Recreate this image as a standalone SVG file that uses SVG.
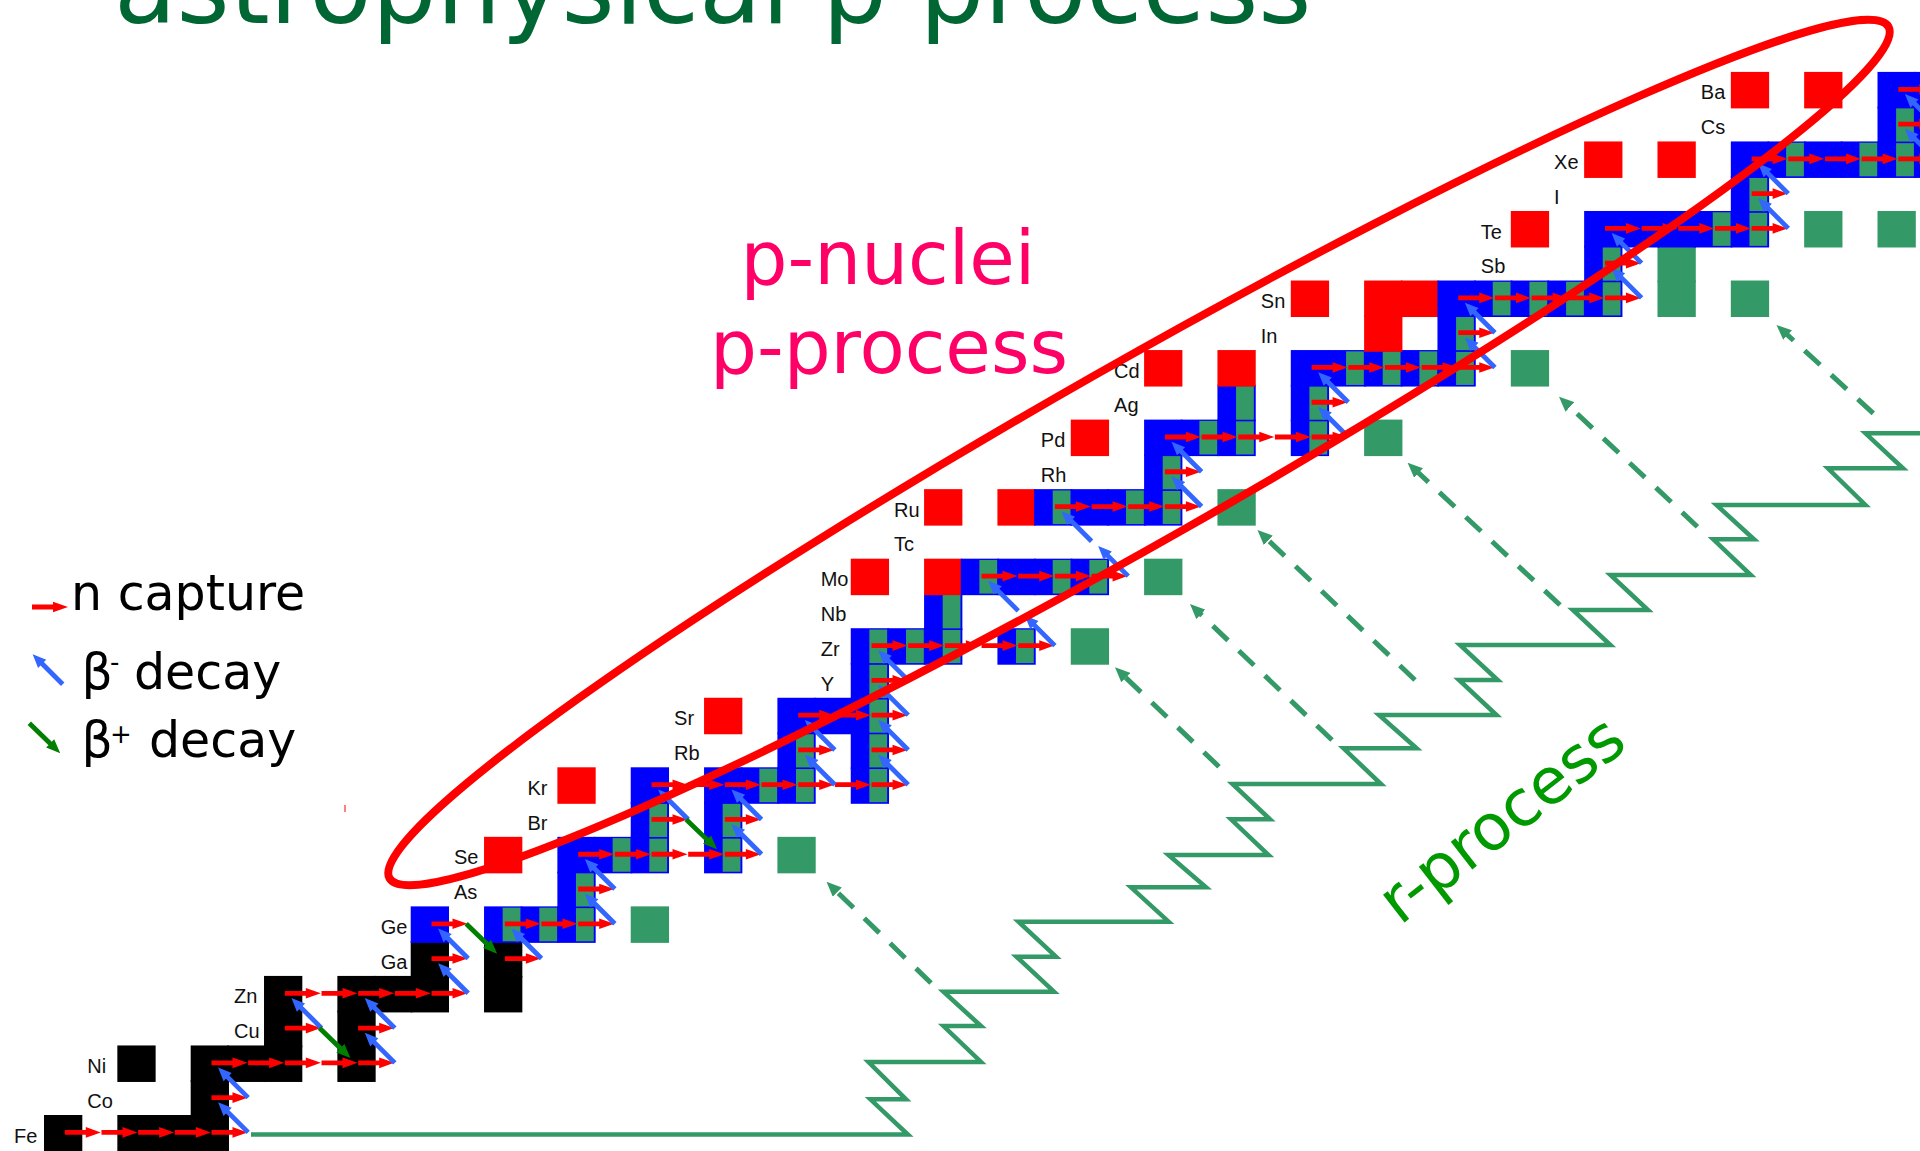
<svg xmlns="http://www.w3.org/2000/svg" xmlns:xlink="http://www.w3.org/1999/xlink" width="1920" height="1151" viewBox="0 0 1920 1151">
<style>
.k{fill:#000000}.b{fill:#0000ff}.g{fill:#339966}.r{fill:#ff0000}
.lbl{font-family:"Liberation Sans",Arial,sans-serif;font-size:20px;fill:#111}
.dj{font-family:"DejaVu Sans",Verdana,sans-serif}
.zz{fill:none;stroke:#339966;stroke-width:4.5;stroke-linejoin:miter}
.da{fill:none;stroke:#339966;stroke-width:5;stroke-dasharray:21 15;marker-end:url(#dh)}
</style>
<defs>
<rect id="sq" width="38.3" height="36.5"/>
<rect id="in" width="17.8" height="33.6"/>
<path id="ra" fill="#ff0000" d="M0,-2.4H21V-5.3L36,0L21,5.3V2.4H0Z"/>
<path id="ba" fill="#3366ff" d="M0,-2.4H29V-5.8L42.5,0L29,5.8V2.4H0Z" transform="rotate(-135)"/>
<path id="ga" fill="#007f00" d="M0,-2.4H29V-5.8L43,0L29,5.8V2.4H0Z" transform="rotate(44)"/>
<marker id="dh" viewBox="0 0 15 13" refX="5" refY="6.5" markerWidth="15" markerHeight="13" markerUnits="userSpaceOnUse" orient="auto"><path d="M0,0L15,6.5L0,13Z" fill="#339966"/></marker>
</defs>
<rect width="1920" height="1151" fill="#ffffff"/>

<text class="dj" x="114" y="22.5" font-size="102" fill="#006633">astrophysical p process</text>

<g id="nuclides">
<g id="Z26-Fe"><use href="#sq" class="k" x="44" y="1115"/><use href="#sq" class="k" x="117.34" y="1115"/><use href="#sq" class="k" x="154.01" y="1115"/><use href="#sq" class="k" x="190.68" y="1115"/><text class="lbl" x="14" y="1142.5">Fe</text></g>
<g id="Z27-Co"><use href="#sq" class="k" x="190.68" y="1080.23"/><text class="lbl" x="87.3" y="1107.7">Co</text></g>
<g id="Z28-Ni"><use href="#sq" class="k" x="117.34" y="1045.46"/><use href="#sq" class="k" x="190.68" y="1045.46"/><use href="#sq" class="k" x="227.35" y="1045.46"/><use href="#sq" class="k" x="264.02" y="1045.46"/><use href="#sq" class="k" x="337.36" y="1045.46"/><text class="lbl" x="87.3" y="1073">Ni</text></g>
<g id="Z29-Cu"><use href="#sq" class="k" x="264.02" y="1010.69"/><use href="#sq" class="k" x="337.36" y="1010.69"/><text class="lbl" x="234" y="1038.2">Cu</text></g>
<g id="Z30-Zn"><use href="#sq" class="k" x="264.02" y="975.92"/><use href="#sq" class="k" x="337.36" y="975.92"/><use href="#sq" class="k" x="374.03" y="975.92"/><use href="#sq" class="k" x="410.7" y="975.92"/><use href="#sq" class="k" x="484.04" y="975.92"/><text class="lbl" x="234" y="1003.4">Zn</text></g>
<g id="Z31-Ga"><use href="#sq" class="k" x="410.7" y="941.15"/><use href="#sq" class="k" x="484.04" y="941.15"/><text class="lbl" x="380.7" y="968.7">Ga</text></g>
<g id="Z32-Ge"><use href="#sq" class="b" x="410.7" y="906.38"/><use href="#sq" class="b" x="484.04" y="906.38"/><use href="#sq" class="b" x="520.71" y="906.38"/><use href="#sq" class="b" x="557.38" y="906.38"/><use href="#in" class="g" x="502.64" y="907.68"/><use href="#in" class="g" x="539.31" y="907.68"/><use href="#in" class="g" x="575.98" y="907.68"/><use href="#sq" class="g" x="630.72" y="906.38"/><text class="lbl" x="380.7" y="933.9">Ge</text></g>
<g id="Z33-As"><use href="#sq" class="b" x="557.38" y="871.61"/><use href="#in" class="g" x="575.98" y="872.91"/><text class="lbl" x="454" y="899.1">As</text></g>
<g id="Z34-Se"><use href="#sq" class="r" x="484.04" y="836.84"/><use href="#sq" class="b" x="557.38" y="836.84"/><use href="#sq" class="b" x="594.05" y="836.84"/><use href="#sq" class="b" x="630.72" y="836.84"/><use href="#sq" class="b" x="704.06" y="836.84"/><use href="#in" class="g" x="612.65" y="838.14"/><use href="#in" class="g" x="649.32" y="838.14"/><use href="#in" class="g" x="722.66" y="838.14"/><use href="#sq" class="g" x="777.4" y="836.84"/><text class="lbl" x="454" y="864.3">Se</text></g>
<g id="Z35-Br"><use href="#sq" class="b" x="630.72" y="802.07"/><use href="#sq" class="b" x="704.06" y="802.07"/><use href="#in" class="g" x="649.32" y="803.37"/><use href="#in" class="g" x="722.66" y="803.37"/><text class="lbl" x="527.4" y="829.6">Br</text></g>
<g id="Z36-Kr"><use href="#sq" class="r" x="557.38" y="767.3"/><use href="#sq" class="b" x="630.72" y="767.3"/><use href="#sq" class="b" x="704.06" y="767.3"/><use href="#sq" class="b" x="740.73" y="767.3"/><use href="#sq" class="b" x="777.4" y="767.3"/><use href="#sq" class="b" x="850.74" y="767.3"/><use href="#in" class="g" x="759.33" y="768.6"/><use href="#in" class="g" x="796" y="768.6"/><use href="#in" class="g" x="869.34" y="768.6"/><text class="lbl" x="527.4" y="794.8">Kr</text></g>
<g id="Z37-Rb"><use href="#sq" class="b" x="777.4" y="732.53"/><use href="#sq" class="b" x="850.74" y="732.53"/><use href="#in" class="g" x="796" y="733.83"/><use href="#in" class="g" x="869.34" y="733.83"/><text class="lbl" x="674.1" y="760">Rb</text></g>
<g id="Z38-Sr"><use href="#sq" class="r" x="704.06" y="697.76"/><use href="#sq" class="b" x="777.4" y="697.76"/><use href="#sq" class="b" x="814.07" y="697.76"/><use href="#sq" class="b" x="850.74" y="697.76"/><use href="#in" class="g" x="869.34" y="699.06"/><text class="lbl" x="674.1" y="725.3">Sr</text></g>
<g id="Z39-Y"><use href="#sq" class="b" x="850.74" y="662.99"/><use href="#in" class="g" x="869.34" y="664.29"/><text class="lbl" x="820.7" y="690.5">Y</text></g>
<g id="Z40-Zr"><use href="#sq" class="b" x="850.74" y="628.22"/><use href="#sq" class="b" x="887.41" y="628.22"/><use href="#sq" class="b" x="924.08" y="628.22"/><use href="#sq" class="b" x="997.42" y="628.22"/><use href="#in" class="g" x="869.34" y="629.52"/><use href="#in" class="g" x="906.01" y="629.52"/><use href="#in" class="g" x="942.68" y="629.52"/><use href="#in" class="g" x="1016.02" y="629.52"/><use href="#sq" class="g" x="1070.76" y="628.22"/><text class="lbl" x="820.7" y="655.7">Zr</text></g>
<g id="Z41-Nb"><use href="#sq" class="b" x="924.08" y="593.45"/><use href="#in" class="g" x="942.68" y="594.75"/><text class="lbl" x="820.7" y="621">Nb</text></g>
<g id="Z42-Mo"><use href="#sq" class="r" x="850.74" y="558.68"/><use href="#sq" class="r" x="924.08" y="558.68"/><use href="#sq" class="b" x="960.75" y="558.68"/><use href="#sq" class="b" x="997.42" y="558.68"/><use href="#sq" class="b" x="1034.09" y="558.68"/><use href="#sq" class="b" x="1070.76" y="558.68"/><use href="#in" class="g" x="979.35" y="559.98"/><use href="#in" class="g" x="1052.69" y="559.98"/><use href="#in" class="g" x="1089.36" y="559.98"/><use href="#sq" class="g" x="1144.1" y="558.68"/><text class="lbl" x="820.7" y="586.2">Mo</text></g>
<g id="Z43-Tc"><text class="lbl" x="894.1" y="551.4">Tc</text></g>
<g id="Z44-Ru"><use href="#sq" class="r" x="924.08" y="489.14"/><use href="#sq" class="r" x="997.42" y="489.14"/><use href="#sq" class="b" x="1034.09" y="489.14"/><use href="#sq" class="b" x="1070.76" y="489.14"/><use href="#sq" class="b" x="1107.43" y="489.14"/><use href="#sq" class="b" x="1144.1" y="489.14"/><use href="#in" class="g" x="1052.69" y="490.44"/><use href="#in" class="g" x="1126.03" y="490.44"/><use href="#in" class="g" x="1162.7" y="490.44"/><use href="#sq" class="g" x="1217.44" y="489.14"/><text class="lbl" x="894.1" y="516.6">Ru</text></g>
<g id="Z45-Rh"><use href="#sq" class="b" x="1144.1" y="454.37"/><use href="#in" class="g" x="1162.7" y="455.67"/><text class="lbl" x="1040.8" y="481.9">Rh</text></g>
<g id="Z46-Pd"><use href="#sq" class="r" x="1070.76" y="419.6"/><use href="#sq" class="b" x="1144.1" y="419.6"/><use href="#sq" class="b" x="1180.77" y="419.6"/><use href="#sq" class="b" x="1217.44" y="419.6"/><use href="#sq" class="b" x="1290.78" y="419.6"/><use href="#in" class="g" x="1199.37" y="420.9"/><use href="#in" class="g" x="1236.04" y="420.9"/><use href="#in" class="g" x="1309.38" y="420.9"/><use href="#sq" class="g" x="1364.12" y="419.6"/><text class="lbl" x="1040.8" y="447.1">Pd</text></g>
<g id="Z47-Ag"><use href="#sq" class="b" x="1217.44" y="384.83"/><use href="#sq" class="b" x="1290.78" y="384.83"/><use href="#in" class="g" x="1236.04" y="386.13"/><use href="#in" class="g" x="1309.38" y="386.13"/><text class="lbl" x="1114.1" y="412.3">Ag</text></g>
<g id="Z48-Cd"><use href="#sq" class="r" x="1144.1" y="350.06"/><use href="#sq" class="r" x="1217.44" y="350.06"/><use href="#sq" class="b" x="1290.78" y="350.06"/><use href="#sq" class="b" x="1327.45" y="350.06"/><use href="#sq" class="b" x="1364.12" y="350.06"/><use href="#sq" class="b" x="1400.79" y="350.06"/><use href="#sq" class="b" x="1437.46" y="350.06"/><use href="#in" class="g" x="1346.05" y="351.36"/><use href="#in" class="g" x="1382.72" y="351.36"/><use href="#in" class="g" x="1419.39" y="351.36"/><use href="#in" class="g" x="1456.06" y="351.36"/><use href="#sq" class="g" x="1510.8" y="350.06"/><text class="lbl" x="1114.1" y="377.6">Cd</text></g>
<g id="Z49-In"><use href="#sq" class="r" x="1364.12" y="315.29"/><use href="#sq" class="b" x="1437.46" y="315.29"/><use href="#in" class="g" x="1456.06" y="316.59"/><text class="lbl" x="1260.8" y="342.8">In</text></g>
<g id="Z50-Sn"><use href="#sq" class="r" x="1290.78" y="280.52"/><use href="#sq" class="r" x="1364.12" y="280.52"/><use href="#sq" class="r" x="1400.79" y="280.52"/><use href="#sq" class="b" x="1437.46" y="280.52"/><use href="#sq" class="b" x="1474.13" y="280.52"/><use href="#sq" class="b" x="1510.8" y="280.52"/><use href="#sq" class="b" x="1547.47" y="280.52"/><use href="#sq" class="b" x="1584.14" y="280.52"/><use href="#in" class="g" x="1492.73" y="281.82"/><use href="#in" class="g" x="1529.4" y="281.82"/><use href="#in" class="g" x="1566.07" y="281.82"/><use href="#in" class="g" x="1602.74" y="281.82"/><use href="#sq" class="g" x="1657.48" y="280.52"/><use href="#sq" class="g" x="1730.82" y="280.52"/><text class="lbl" x="1260.8" y="308">Sn</text></g>
<g id="Z51-Sb"><use href="#sq" class="b" x="1584.14" y="245.75"/><use href="#in" class="g" x="1602.74" y="247.05"/><use href="#sq" class="g" x="1657.48" y="245.75"/><text class="lbl" x="1480.8" y="273.3">Sb</text></g>
<g id="Z52-Te"><use href="#sq" class="r" x="1510.8" y="210.98"/><use href="#sq" class="b" x="1584.14" y="210.98"/><use href="#sq" class="b" x="1620.81" y="210.98"/><use href="#sq" class="b" x="1657.48" y="210.98"/><use href="#sq" class="b" x="1694.15" y="210.98"/><use href="#sq" class="b" x="1730.82" y="210.98"/><use href="#in" class="g" x="1712.75" y="212.28"/><use href="#in" class="g" x="1749.42" y="212.28"/><use href="#sq" class="g" x="1804.16" y="210.98"/><use href="#sq" class="g" x="1877.5" y="210.98"/><text class="lbl" x="1480.8" y="238.5">Te</text></g>
<g id="Z53-I"><use href="#sq" class="b" x="1730.82" y="176.21"/><use href="#in" class="g" x="1749.42" y="177.51"/><text class="lbl" x="1554.1" y="203.7">I</text></g>
<g id="Z54-Xe"><use href="#sq" class="r" x="1584.14" y="141.44"/><use href="#sq" class="r" x="1657.48" y="141.44"/><use href="#sq" class="b" x="1730.82" y="141.44"/><use href="#sq" class="b" x="1767.49" y="141.44"/><use href="#sq" class="b" x="1804.16" y="141.44"/><use href="#sq" class="b" x="1840.83" y="141.44"/><use href="#sq" class="b" x="1877.5" y="141.44"/><use href="#sq" class="b" x="1914.17" y="141.44"/><use href="#in" class="g" x="1786.09" y="142.74"/><use href="#in" class="g" x="1859.43" y="142.74"/><use href="#in" class="g" x="1896.1" y="142.74"/><text class="lbl" x="1554.1" y="168.9">Xe</text></g>
<g id="Z55-Cs"><use href="#sq" class="b" x="1877.5" y="106.67"/><use href="#sq" class="b" x="1914.17" y="106.67"/><use href="#in" class="g" x="1896.1" y="107.97"/><text class="lbl" x="1700.8" y="134.2">Cs</text></g>
<g id="Z56-Ba"><use href="#sq" class="r" x="1730.82" y="71.9"/><use href="#sq" class="r" x="1804.16" y="71.9"/><use href="#sq" class="b" x="1877.5" y="71.9"/><use href="#sq" class="b" x="1914.17" y="71.9"/><text class="lbl" x="1700.8" y="99.4">Ba</text></g>
</g>

<g id="r-process-path">
<path class="zz" d="M251,1134.5H907.9L870.4,1099.3H906L868.5,1062H981L943.5,1026H981L943.5,991.7H1054L1016.5,956.7H1056L1018.5,921.7H1168.6L1131,887.3H1206L1168.5,855H1268.6L1231,819.3H1270L1232.5,784H1381L1343.5,748.3H1416.6L1379,715H1496.5L1459,680H1497.7L1460,645H1610.4L1572.9,610H1648L1610.5,575H1750.8L1713.3,539.3H1754L1716.5,505H1865.4L1827.9,468.3H1903L1865.5,433.3H1925"/>
<path class="da" d="M931,983L833.7,888.6"/>
<path class="da" d="M1219,766.7L1122.2,674.2"/>
<path class="da" d="M1332,740L1197.2,610.9"/>
<path class="da" d="M1415,680L1264.7,536.9"/>
<path class="da" d="M1560,605L1414.9,469.5"/>
<path class="da" d="M1697.4,526.7L1566.3,403.5"/>
<path class="da" d="M1873.3,413.3L1783.9,331.7"/>
</g>

<g id="connectors">
<use href="#ra" x="64.8" y="1132.4"/><use href="#ra" x="101.47" y="1132.4"/><use href="#ra" x="138.14" y="1132.4"/><use href="#ra" x="174.81" y="1132.4"/><use href="#ra" x="211.48" y="1132.4"/>
<use href="#ra" x="211.48" y="1097.63"/>
<use href="#ra" x="211.48" y="1062.86"/><use href="#ra" x="248.15" y="1062.86"/><use href="#ra" x="284.82" y="1062.86"/><use href="#ra" x="321.49" y="1062.86"/><use href="#ra" x="358.16" y="1062.86"/>
<use href="#ra" x="284.82" y="1028.09"/><use href="#ra" x="358.16" y="1028.09"/>
<use href="#ra" x="284.82" y="993.32"/><use href="#ra" x="321.49" y="993.32"/><use href="#ra" x="358.16" y="993.32"/><use href="#ra" x="394.83" y="993.32"/><use href="#ra" x="431.5" y="993.32"/>
<use href="#ra" x="431.5" y="958.55"/><use href="#ra" x="504.84" y="958.55"/>
<use href="#ra" x="431.5" y="923.78"/><use href="#ra" x="504.84" y="923.78"/><use href="#ra" x="541.51" y="923.78"/><use href="#ra" x="578.18" y="923.78"/>
<use href="#ra" x="578.18" y="889.01"/>
<use href="#ra" x="578.18" y="854.24"/><use href="#ra" x="614.85" y="854.24"/><use href="#ra" x="651.52" y="854.24"/><use href="#ra" x="688.19" y="854.24"/><use href="#ra" x="724.86" y="854.24"/>
<use href="#ra" x="651.52" y="819.47"/><use href="#ra" x="724.86" y="819.47"/>
<use href="#ra" x="651.52" y="784.7"/><use href="#ra" x="688.19" y="784.7"/><use href="#ra" x="724.86" y="784.7"/><use href="#ra" x="761.53" y="784.7"/><use href="#ra" x="798.2" y="784.7"/><use href="#ra" x="834.87" y="784.7"/><use href="#ra" x="871.54" y="784.7"/>
<use href="#ra" x="798.2" y="749.93"/><use href="#ra" x="871.54" y="749.93"/>
<use href="#ra" x="798.2" y="715.16"/><use href="#ra" x="834.87" y="715.16"/><use href="#ra" x="871.54" y="715.16"/>
<use href="#ra" x="871.54" y="680.39"/>
<use href="#ra" x="871.54" y="645.62"/><use href="#ra" x="908.21" y="645.62"/><use href="#ra" x="944.88" y="645.62"/><use href="#ra" x="981.55" y="645.62"/><use href="#ra" x="1018.22" y="645.62"/>
<use href="#ra" x="981.55" y="576.08"/><use href="#ra" x="1018.22" y="576.08"/><use href="#ra" x="1054.89" y="576.08"/><use href="#ra" x="1091.56" y="576.08"/>
<use href="#ra" x="1054.89" y="506.54"/><use href="#ra" x="1091.56" y="506.54"/><use href="#ra" x="1128.23" y="506.54"/><use href="#ra" x="1164.9" y="506.54"/>
<use href="#ra" x="1164.9" y="471.77"/>
<use href="#ra" x="1164.9" y="437"/><use href="#ra" x="1201.57" y="437"/><use href="#ra" x="1238.24" y="437"/><use href="#ra" x="1274.91" y="437"/><use href="#ra" x="1311.58" y="437"/>
<use href="#ra" x="1311.58" y="402.23"/>
<use href="#ra" x="1311.58" y="367.46"/><use href="#ra" x="1348.25" y="367.46"/><use href="#ra" x="1384.92" y="367.46"/><use href="#ra" x="1421.59" y="367.46"/><use href="#ra" x="1458.26" y="367.46"/>
<use href="#ra" x="1458.26" y="332.69"/>
<use href="#ra" x="1458.26" y="297.92"/><use href="#ra" x="1494.93" y="297.92"/><use href="#ra" x="1531.6" y="297.92"/><use href="#ra" x="1568.27" y="297.92"/><use href="#ra" x="1604.94" y="297.92"/>
<use href="#ra" x="1604.94" y="263.15"/>
<use href="#ra" x="1604.94" y="228.38"/><use href="#ra" x="1641.61" y="228.38"/><use href="#ra" x="1678.28" y="228.38"/><use href="#ra" x="1714.95" y="228.38"/><use href="#ra" x="1751.62" y="228.38"/>
<use href="#ra" x="1751.62" y="193.61"/>
<use href="#ra" x="1751.62" y="158.84"/><use href="#ra" x="1788.29" y="158.84"/><use href="#ra" x="1824.96" y="158.84"/><use href="#ra" x="1861.63" y="158.84"/><use href="#ra" x="1898.3" y="158.84"/>
<use href="#ra" x="1898.3" y="124.07"/>
<use href="#ra" x="1898.3" y="89.3"/>

<use href="#ba" x="248.15" y="1132.4"/><use href="#ba" x="248.15" y="1097.63"/><use href="#ba" x="394.83" y="1062.86"/><use href="#ba" x="321.49" y="1028.09"/><use href="#ba" x="394.83" y="1028.09"/>
<use href="#ba" x="468.17" y="993.32"/><use href="#ba" x="468.17" y="958.55"/><use href="#ba" x="541.51" y="958.55"/><use href="#ba" x="614.85" y="923.78"/><use href="#ba" x="614.85" y="889.01"/>
<use href="#ba" x="761.53" y="854.24"/><use href="#ba" x="688.19" y="819.47"/><use href="#ba" x="761.53" y="819.47"/><use href="#ba" x="834.87" y="784.7"/><use href="#ba" x="908.21" y="784.7"/>
<use href="#ba" x="834.87" y="749.93"/><use href="#ba" x="908.21" y="749.93"/><use href="#ba" x="908.21" y="715.16"/><use href="#ba" x="908.21" y="680.39"/>
<use href="#ba" x="1054.89" y="645.62"/><use href="#ba" x="1018.22" y="610.85"/><use href="#ba" x="1128.23" y="576.08"/><use href="#ba" x="1091.56" y="541.31"/>
<use href="#ba" x="1201.57" y="506.54"/><use href="#ba" x="1201.57" y="471.77"/><use href="#ba" x="1348.25" y="437"/><use href="#ba" x="1348.25" y="402.23"/>
<use href="#ba" x="1494.93" y="367.46"/><use href="#ba" x="1494.93" y="332.69"/><use href="#ba" x="1641.61" y="297.92"/><use href="#ba" x="1641.61" y="263.15"/>
<use href="#ba" x="1788.29" y="228.38"/><use href="#ba" x="1788.29" y="193.61"/><use href="#ba" x="1934.97" y="158.84"/><use href="#ba" x="1934.97" y="124.07"/>

<use href="#ga" x="319.5" y="1028.09"/><use href="#ga" x="466.2" y="923.78"/><use href="#ga" x="686.2" y="819.47"/>
</g>

<g id="p-nuclei-ellipse">
<ellipse cx="1139" cy="452.5" rx="862" ry="89" transform="rotate(-29.6 1139 452.5)" fill="none" stroke="#ff0000" stroke-width="8"/>
<line x1="345" y1="805" x2="345" y2="812" stroke="#ff0000" stroke-width="1"/>
</g>

<g id="legend">
<use href="#ra" x="32" y="607"/>
<use href="#ba" x="62.7" y="684.3"/>
<use href="#ga" x="29.3" y="723.3"/>
<text class="dj" x="71" y="610" font-size="49" fill="#000">n capture</text>
<text class="dj" x="81.6" y="689" font-size="49" fill="#000">β<tspan x="110" y="671" font-size="26">-</tspan><tspan x="118.4" y="689"> decay</tspan></text>
<text class="dj" x="81.6" y="757" font-size="49" fill="#000">β<tspan x="110" y="743" font-size="26">+</tspan><tspan x="133.4" y="757"> decay</tspan></text>
</g>

<g id="labels">
<text class="dj" x="888" y="284" font-size="74" fill="#ff0066" text-anchor="middle">p-nuclei</text>
<text class="dj" x="889" y="373" font-size="74" fill="#ff0066" text-anchor="middle">p-process</text>
<text class="dj" font-size="64" fill="#009900" transform="translate(1400,926) rotate(-38)">r-process</text>
</g>
</svg>
